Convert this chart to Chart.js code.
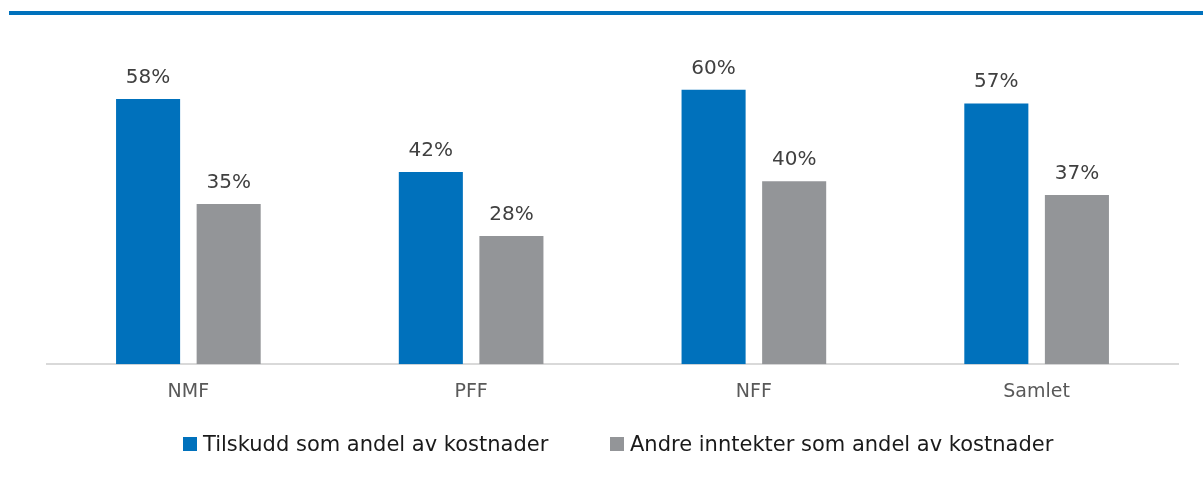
<!DOCTYPE html>
<html>
<head>
<meta charset="utf-8">
<script src="https://cdn.jsdelivr.net/npm/chart.js@4"></script>
<style>
  html, body { margin: 0; padding: 0; background: #fff; }
  #wrap { position: relative; width: 1203px; height: 477px; overflow: hidden; }
  #topline { position: absolute; left: 9px; top: 11px; width: 1194px; height: 4px; background: #0071bc; }
  canvas { position: absolute; left: 0; top: 0; }
  .lg { position: absolute; top: 431px; height: 26px; display: flex; align-items: center;
        font-family: 'DejaVu Sans', sans-serif; font-size: 21px; color: #1a1a1a; white-space: nowrap; }
  .lg .box { width: 14px; height: 14px; margin-right: 6px; flex: none; }
</style>
</head>
<body>
<div id="wrap">
  <canvas id="c" width="1203" height="477"></canvas>
  <div id="topline"></div>
  <div id="legend"></div>
</div>
<script>
const categories = ["NMF", "PFF", "NFF", "Samlet"];
const seriesNames = ["Tilskudd som andel av kostnader", "Andre inntekter som andel av kostnader"];
const tilskudd = [58, 42, 60, 57];
const andre = [35, 28, 40, 37];
const seriesColors = ['#0071bc', '#939598'];

const FONT = "'DejaVu Sans', sans-serif";

const valueLabels = {
  id: 'valueLabels',
  afterDatasetsDraw(chart) {
    const ctx = chart.ctx;
    ctx.save();
    ctx.font = "20px " + FONT;
    ctx.fillStyle = '#404040';
    ctx.textAlign = 'center';
    ctx.textBaseline = 'alphabetic';
    chart.data.datasets.forEach((ds, i) => {
      chart.getDatasetMeta(i).data.forEach((bar, j) => {
        ctx.fillText(ds.data[j] + '%', bar.x, bar.y - 16);
      });
    });
    ctx.restore();
  }
};

const chart = new Chart(document.getElementById('c'), {
  type: 'bar',
  data: {
    labels: categories,
    datasets: [
      { label: seriesNames[0], data: tilskudd, backgroundColor: seriesColors[0], categoryPercentage: 0.57, barPercentage: 0.795 },
      { label: seriesNames[1], data: andre, backgroundColor: seriesColors[1], categoryPercentage: 0.57, barPercentage: 0.795 }
    ]
  },
  options: {
    responsive: false,
    animation: false,
    layout: { padding: { left: 47, right: 25, top: 44, bottom: 58 } },
    plugins: {
      legend: { display: false },
      tooltip: { enabled: false }
    },
    scales: {
      x: {
        grid: { display: false, drawTicks: false },
        border: { display: true, color: '#d9d9d9', width: 2 },
        ticks: { color: '#595959', font: { family: FONT, size: 19 }, padding: 16 }
      },
      y: {
        display: false,
        min: 0, max: 70
      }
    }
  },
  plugins: [valueLabels]
});

// HTML legend built from the series names/colours
const legendLefts = [183, 610];
const legendEl = document.getElementById('legend');
seriesNames.forEach((name, i) => {
  const item = document.createElement('div');
  item.className = 'lg';
  item.style.left = legendLefts[i] + 'px';
  const box = document.createElement('span');
  box.className = 'box';
  box.style.background = seriesColors[i];
  const txt = document.createElement('span');
  txt.textContent = name;
  item.appendChild(box);
  item.appendChild(txt);
  legendEl.appendChild(item);
});
</script>
</body>
</html>
